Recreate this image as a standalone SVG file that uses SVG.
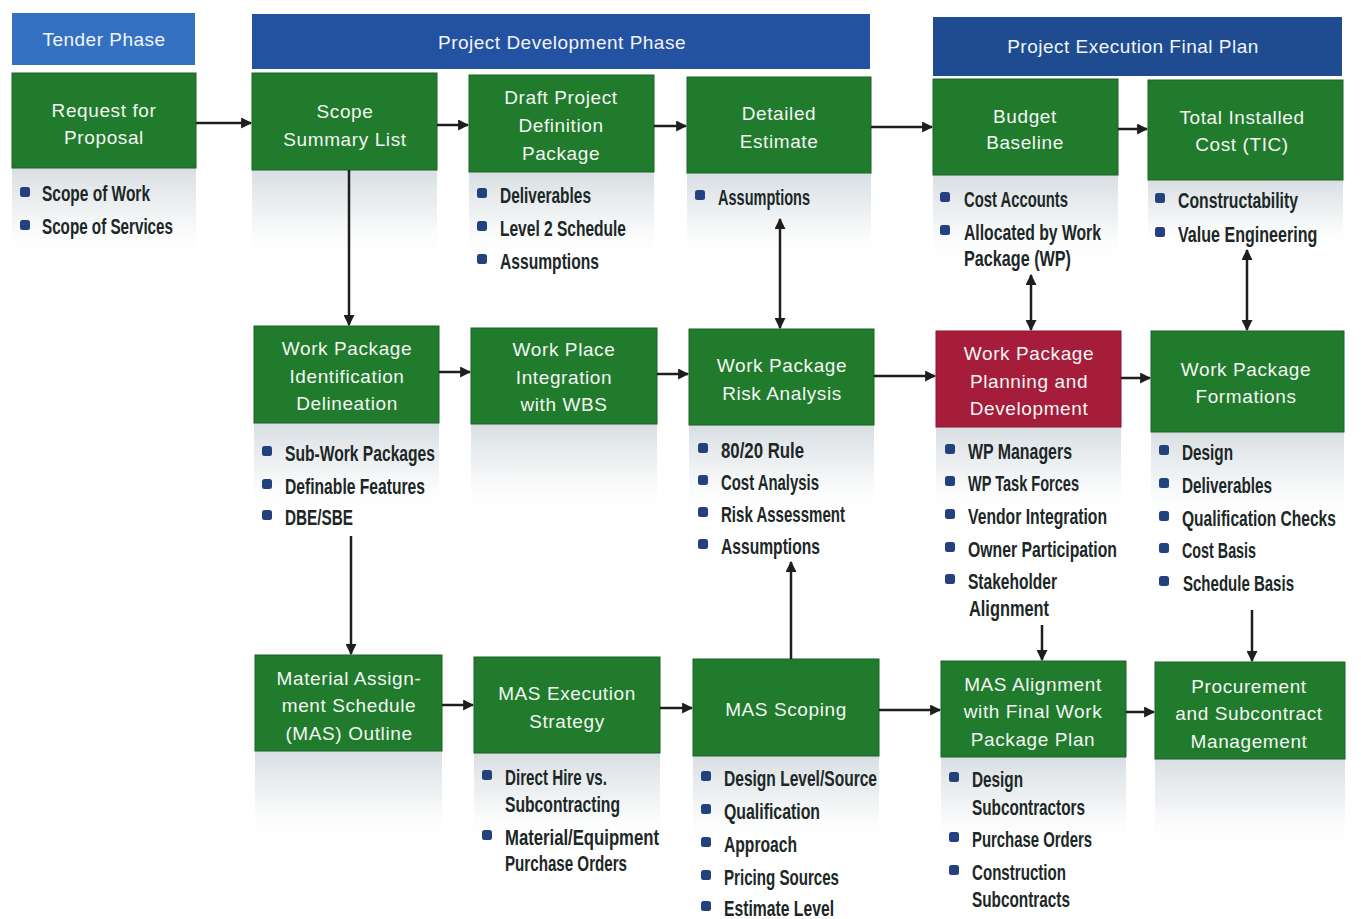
<svg xmlns="http://www.w3.org/2000/svg" width="1361" height="919" viewBox="0 0 1361 919">
<defs>
<style>
.hdr1{fill:#3571c1}
.hdr2{fill:#2452a2}
.hdr3{fill:#1f4b91}
.box{fill:#217b2c;stroke:#1a6324;stroke-width:1}
.red{fill:#a51d3b;stroke:#851530;stroke-width:1}
.sh{fill:url(#fade)}
.t{font-family:"Liberation Sans",Arial,sans-serif;font-size:19px;fill:#f3f6f3;text-anchor:middle;letter-spacing:0.6px}
.h{font-family:"Liberation Sans",Arial,sans-serif;font-size:19px;fill:#f2f4f8;text-anchor:middle;letter-spacing:0.5px}
.b{font-family:"Liberation Sans",Arial,sans-serif;font-size:22px;font-weight:bold;fill:#1c2727}
.sq{fill:#24417f}
.c{stroke:#1e1e1e;stroke-width:2.5;fill:none}
</style>
<linearGradient id="fade" x1="0" y1="0" x2="0" y2="1">
<stop offset="0" stop-color="#d3dadf" stop-opacity="0.9"/>
<stop offset="0.5" stop-color="#e6eaec" stop-opacity="0.6"/>
<stop offset="1" stop-color="#ffffff" stop-opacity="0"/>
</linearGradient>
<marker id="ah" viewBox="0 0 10 10" refX="9" refY="5" markerWidth="4.6" markerHeight="4.4" orient="auto-start-reverse" markerUnits="strokeWidth">
<path d="M0,0 L10,5 L0,10 z" fill="#1e1e1e"/>
</marker>
</defs>
<rect width="1361" height="919" fill="#ffffff"/>

<g id="headers">
<g id="hdr-tender"><rect class="hdr1" x="12" y="13" width="183" height="52"/><text class="h" x="104" y="46">Tender Phase</text></g>
<g id="hdr-dev"><rect class="hdr2" x="252" y="14" width="618" height="55"/><text class="h" x="562" y="49">Project Development Phase</text></g>
<g id="hdr-exec"><rect class="hdr3" x="933" y="17" width="409" height="59"/><text class="h" x="1133" y="53">Project Execution Final Plan</text></g>
</g>

<g id="n-rfp">
<rect class="sh" x="12" y="168" width="184" height="90"/>
<rect class="box" x="12" y="73" width="184" height="95"/>
<text class="t" x="104" y="117">Request for</text><text class="t" x="104" y="144">Proposal</text>
<rect class="sq" x="20" y="187" width="10" height="10" rx="2.5"/><text class="b" x="42" y="201" textLength="108" lengthAdjust="spacingAndGlyphs">Scope of Work</text>
<rect class="sq" x="20" y="220" width="10" height="10" rx="2.5"/><text class="b" x="42" y="234" textLength="131" lengthAdjust="spacingAndGlyphs">Scope of Services</text>
</g>

<g id="n-ssl">
<rect class="sh" x="252" y="170" width="185" height="90"/>
<rect class="box" x="252" y="73" width="185" height="97"/>
<text class="t" x="345" y="118">Scope</text><text class="t" x="345" y="146">Summary List</text>
</g>

<g id="n-dpdp">
<rect class="sh" x="469" y="172" width="185" height="90"/>
<rect class="box" x="469" y="75" width="185" height="97"/>
<text class="t" x="561" y="104">Draft Project</text><text class="t" x="561" y="132">Definition</text><text class="t" x="561" y="160">Package</text>
<rect class="sq" x="477" y="188" width="10" height="10" rx="2.5"/><text class="b" x="500" y="203" textLength="91" lengthAdjust="spacingAndGlyphs">Deliverables</text>
<rect class="sq" x="477" y="221" width="10" height="10" rx="2.5"/><text class="b" x="500" y="236" textLength="126" lengthAdjust="spacingAndGlyphs">Level 2 Schedule</text>
<rect class="sq" x="477" y="254" width="10" height="10" rx="2.5"/><text class="b" x="500" y="269" textLength="99" lengthAdjust="spacingAndGlyphs">Assumptions</text>
</g>

<g id="n-de">
<rect class="sh" x="687" y="173" width="184" height="90"/>
<rect class="box" x="687" y="77" width="184" height="96"/>
<text class="t" x="779" y="120">Detailed</text><text class="t" x="779" y="148">Estimate</text>
<rect class="sq" x="695" y="190" width="10" height="10" rx="2.5"/><text class="b" x="718" y="205" textLength="92" lengthAdjust="spacingAndGlyphs">Assumptions</text>
</g>

<g id="n-bb">
<rect class="sh" x="933" y="175" width="185" height="90"/>
<rect class="box" x="933" y="79" width="185" height="96"/>
<text class="t" x="1025" y="123">Budget</text><text class="t" x="1025" y="149">Baseline</text>
<rect class="sq" x="940" y="192" width="10" height="10" rx="2.5"/><text class="b" x="964" y="207" textLength="104" lengthAdjust="spacingAndGlyphs">Cost Accounts</text>
<rect class="sq" x="940" y="225" width="10" height="10" rx="2.5"/><text class="b" x="964" y="240" textLength="137" lengthAdjust="spacingAndGlyphs">Allocated by Work</text>
<text class="b" x="964" y="266" textLength="107" lengthAdjust="spacingAndGlyphs">Package (WP)</text>
</g>

<g id="n-tic">
<rect class="sh" x="1148" y="180" width="195" height="70"/>
<rect class="box" x="1148" y="80" width="195" height="100"/>
<text class="t" x="1242" y="124">Total Installed</text><text class="t" x="1242" y="151">Cost (TIC)</text>
<rect class="sq" x="1155" y="193" width="10" height="10" rx="2.5"/><text class="b" x="1178" y="208" textLength="120" lengthAdjust="spacingAndGlyphs">Constructability</text>
<rect class="sq" x="1155" y="227" width="10" height="10" rx="2.5"/><text class="b" transform="translate(1178,242) scale(0.66,1)" x="0" y="0" textLength="211" lengthAdjust="spacingAndGlyphs">Value Engineering</text>
</g>

<g id="n-wpid">
<rect class="sh" x="254" y="423" width="185" height="90"/>
<rect class="box" x="254" y="326" width="185" height="97"/>
<text class="t" x="347" y="355">Work Package</text><text class="t" x="347" y="383">Identification</text><text class="t" x="347" y="410">Delineation</text>
<rect class="sq" x="262" y="446" width="10" height="10" rx="2.5"/><text class="b" x="285" y="461" textLength="150" lengthAdjust="spacingAndGlyphs">Sub-Work Packages</text>
<rect class="sq" x="262" y="479" width="10" height="10" rx="2.5"/><text class="b" x="285" y="494" textLength="140" lengthAdjust="spacingAndGlyphs">Definable Features</text>
<rect class="sq" x="262" y="510" width="10" height="10" rx="2.5"/><text class="b" x="285" y="525" textLength="68" lengthAdjust="spacingAndGlyphs">DBE/SBE</text>
</g>

<g id="n-wpi">
<rect class="sh" x="471" y="424" width="186" height="90"/>
<rect class="box" x="471" y="328" width="186" height="96"/>
<text class="t" x="564" y="356">Work Place</text><text class="t" x="564" y="384">Integration</text><text class="t" x="564" y="411">with WBS</text>
</g>

<g id="n-wpra">
<rect class="sh" x="689" y="425" width="185" height="90"/>
<rect class="box" x="689" y="329" width="185" height="96"/>
<text class="t" x="782" y="372">Work Package</text><text class="t" x="782" y="400">Risk Analysis</text>
<rect class="sq" x="698" y="443" width="10" height="10" rx="2.5"/><text class="b" x="721" y="458" textLength="83" lengthAdjust="spacingAndGlyphs">80/20 Rule</text>
<rect class="sq" x="698" y="475" width="10" height="10" rx="2.5"/><text class="b" x="721" y="490" textLength="98" lengthAdjust="spacingAndGlyphs">Cost Analysis</text>
<rect class="sq" x="698" y="507" width="10" height="10" rx="2.5"/><text class="b" x="721" y="522" textLength="124" lengthAdjust="spacingAndGlyphs">Risk Assessment</text>
<rect class="sq" x="698" y="539" width="10" height="10" rx="2.5"/><text class="b" x="721" y="554" textLength="99" lengthAdjust="spacingAndGlyphs">Assumptions</text>
</g>

<g id="n-wppd">
<rect class="sh" x="936" y="427" width="185" height="90"/>
<rect class="red" x="936" y="331" width="185" height="96"/>
<text class="t" x="1029" y="360">Work Package</text><text class="t" x="1029" y="388">Planning and</text><text class="t" x="1029" y="415">Development</text>
<rect class="sq" x="945" y="444" width="10" height="10" rx="2.5"/><text class="b" x="968" y="459" textLength="104" lengthAdjust="spacingAndGlyphs">WP Managers</text>
<rect class="sq" x="945" y="476" width="10" height="10" rx="2.5"/><text class="b" x="968" y="491" textLength="111" lengthAdjust="spacingAndGlyphs">WP Task Forces</text>
<rect class="sq" x="945" y="509" width="10" height="10" rx="2.5"/><text class="b" x="968" y="524" textLength="139" lengthAdjust="spacingAndGlyphs">Vendor Integration</text>
<rect class="sq" x="945" y="542" width="10" height="10" rx="2.5"/><text class="b" x="968" y="557" textLength="149" lengthAdjust="spacingAndGlyphs">Owner Participation</text>
<rect class="sq" x="945" y="574" width="10" height="10" rx="2.5"/><text class="b" x="968" y="589" textLength="89" lengthAdjust="spacingAndGlyphs">Stakeholder</text>
<text class="b" x="969" y="616" textLength="80" lengthAdjust="spacingAndGlyphs">Alignment</text>
</g>

<g id="n-wpf">
<rect class="sh" x="1151" y="432" width="193" height="90"/>
<rect class="box" x="1151" y="331" width="193" height="101"/>
<text class="t" x="1246" y="376">Work Package</text><text class="t" x="1246" y="403">Formations</text>
<rect class="sq" x="1159" y="445" width="10" height="10" rx="2.5"/><text class="b" x="1182" y="460" textLength="51" lengthAdjust="spacingAndGlyphs">Design</text>
<rect class="sq" x="1159" y="478" width="10" height="10" rx="2.5"/><text class="b" x="1182" y="493" textLength="90" lengthAdjust="spacingAndGlyphs">Deliverables</text>
<rect class="sq" x="1159" y="511" width="10" height="10" rx="2.5"/><text class="b" transform="translate(1182,526) scale(0.684,1)" x="0" y="0" textLength="225" lengthAdjust="spacingAndGlyphs">Qualification Checks</text>
<rect class="sq" x="1159" y="543" width="10" height="10" rx="2.5"/><text class="b" x="1182" y="558" textLength="74" lengthAdjust="spacingAndGlyphs">Cost Basis</text>
<rect class="sq" x="1159" y="576" width="10" height="10" rx="2.5"/><text class="b" x="1183" y="591" textLength="111" lengthAdjust="spacingAndGlyphs">Schedule Basis</text>
</g>

<g id="n-maso">
<rect class="sh" x="255" y="751" width="187" height="90"/>
<rect class="box" x="255" y="655" width="187" height="96"/>
<text class="t" x="349" y="685">Material Assign-</text><text class="t" x="349" y="712">ment Schedule</text><text class="t" x="349" y="740">(MAS) Outline</text>
</g>

<g id="n-mase">
<rect class="sh" x="474" y="753" width="186" height="90"/>
<rect class="box" x="474" y="657" width="186" height="96"/>
<text class="t" x="567" y="700">MAS Execution</text><text class="t" x="567" y="728">Strategy</text>
<rect class="sq" x="482" y="770" width="10" height="10" rx="2.5"/><text class="b" x="505" y="785" textLength="102" lengthAdjust="spacingAndGlyphs">Direct Hire vs.</text>
<text class="b" x="505" y="812" textLength="115" lengthAdjust="spacingAndGlyphs">Subcontracting</text>
<rect class="sq" x="482" y="830" width="10" height="10" rx="2.5"/><text class="b" x="505" y="845" textLength="154" lengthAdjust="spacingAndGlyphs">Material/Equipment</text>
<text class="b" x="505" y="871" textLength="122" lengthAdjust="spacingAndGlyphs">Purchase Orders</text>
</g>

<g id="n-mass">
<rect class="sh" x="693" y="756" width="186" height="90"/>
<rect class="box" x="693" y="659" width="186" height="97"/>
<text class="t" x="786" y="716">MAS Scoping</text>
<rect class="sq" x="701" y="771" width="10" height="10" rx="2.5"/><text class="b" x="724" y="786" textLength="153" lengthAdjust="spacingAndGlyphs">Design Level/Source</text>
<rect class="sq" x="701" y="804" width="10" height="10" rx="2.5"/><text class="b" x="724" y="819" textLength="96" lengthAdjust="spacingAndGlyphs">Qualification</text>
<rect class="sq" x="701" y="837" width="10" height="10" rx="2.5"/><text class="b" x="724" y="852" textLength="73" lengthAdjust="spacingAndGlyphs">Approach</text>
<rect class="sq" x="701" y="870" width="10" height="10" rx="2.5"/><text class="b" x="724" y="885" textLength="115" lengthAdjust="spacingAndGlyphs">Pricing Sources</text>
<rect class="sq" x="701" y="901" width="10" height="10" rx="2.5"/><text class="b" x="724" y="916" textLength="110" lengthAdjust="spacingAndGlyphs">Estimate Level</text>
</g>

<g id="n-masa">
<rect class="sh" x="941" y="757" width="185" height="90"/>
<rect class="box" x="941" y="661" width="185" height="96"/>
<text class="t" x="1033" y="691">MAS Alignment</text><text class="t" x="1033" y="718">with Final Work</text><text class="t" x="1033" y="746">Package Plan</text>
<rect class="sq" x="949" y="772" width="10" height="10" rx="2.5"/><text class="b" x="972" y="787" textLength="51" lengthAdjust="spacingAndGlyphs">Design</text>
<text class="b" x="972" y="815" textLength="113" lengthAdjust="spacingAndGlyphs">Subcontractors</text>
<rect class="sq" x="949" y="832" width="10" height="10" rx="2.5"/><text class="b" x="972" y="847" textLength="120" lengthAdjust="spacingAndGlyphs">Purchase Orders</text>
<rect class="sq" x="949" y="865" width="10" height="10" rx="2.5"/><text class="b" x="972" y="880" textLength="94" lengthAdjust="spacingAndGlyphs">Construction</text>
<text class="b" x="972" y="907" textLength="98" lengthAdjust="spacingAndGlyphs">Subcontracts</text>
</g>

<g id="n-proc">
<rect class="sh" x="1155" y="759" width="190" height="90"/>
<rect class="box" x="1155" y="662" width="190" height="97"/>
<text class="t" x="1249" y="693">Procurement</text><text class="t" x="1249" y="720">and Subcontract</text><text class="t" x="1249" y="748">Management</text>
</g>

<g id="connectors">
<line class="c" x1="196" y1="123" x2="251" y2="123" marker-end="url(#ah)"/>
<line class="c" x1="437" y1="125" x2="468" y2="125" marker-end="url(#ah)"/>
<line class="c" x1="654" y1="126" x2="686" y2="126" marker-end="url(#ah)"/>
<line class="c" x1="871" y1="127" x2="932" y2="127" marker-end="url(#ah)"/>
<line class="c" x1="1118" y1="129" x2="1147" y2="129" marker-end="url(#ah)"/>
<line class="c" x1="349" y1="170" x2="349" y2="325" marker-end="url(#ah)"/>
<line class="c" x1="439" y1="372" x2="470" y2="372" marker-end="url(#ah)"/>
<line class="c" x1="657" y1="374" x2="688" y2="374" marker-end="url(#ah)"/>
<line class="c" x1="874" y1="376" x2="935" y2="376" marker-end="url(#ah)"/>
<line class="c" x1="1121" y1="378" x2="1150" y2="378" marker-end="url(#ah)"/>
<line class="c" x1="780" y1="219" x2="780" y2="328" marker-start="url(#ah)" marker-end="url(#ah)"/>
<line class="c" x1="1031" y1="275" x2="1031" y2="330" marker-start="url(#ah)" marker-end="url(#ah)"/>
<line class="c" x1="1247" y1="250" x2="1247" y2="330" marker-start="url(#ah)" marker-end="url(#ah)"/>
<line class="c" x1="351" y1="536" x2="351" y2="654" marker-end="url(#ah)"/>
<line class="c" x1="442" y1="705" x2="473" y2="705" marker-end="url(#ah)"/>
<line class="c" x1="660" y1="708" x2="692" y2="708" marker-end="url(#ah)"/>
<line class="c" x1="791" y1="659" x2="791" y2="562" marker-end="url(#ah)"/>
<line class="c" x1="879" y1="710" x2="940" y2="710" marker-end="url(#ah)"/>
<line class="c" x1="1126" y1="712" x2="1154" y2="712" marker-end="url(#ah)"/>
<line class="c" x1="1042" y1="625" x2="1042" y2="660" marker-end="url(#ah)"/>
<line class="c" x1="1252" y1="610" x2="1252" y2="661" marker-end="url(#ah)"/>
</g>
</svg>
